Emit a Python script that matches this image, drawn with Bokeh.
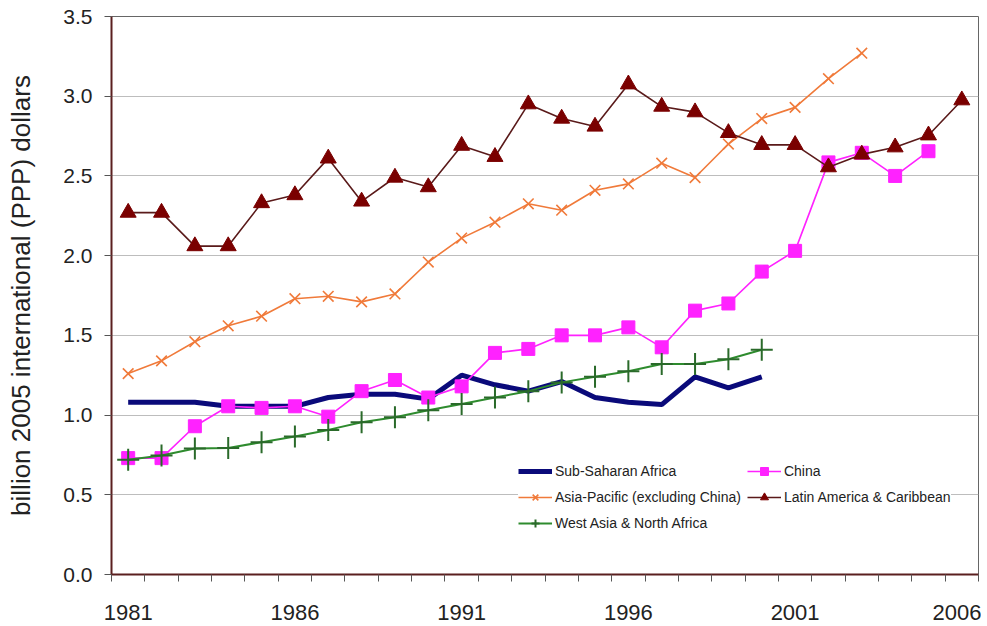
from bokeh.plotting import figure
from bokeh.models import FixedTicker, Range1d, Legend, LegendItem, CustomJSTickFormatter
from bokeh.embed import file_html
from bokeh.resources import INLINE

years = list(range(1981, 2007))

ssa = [1.08, 1.08, 1.08, 1.055, 1.055, 1.055, 1.11, 1.13, 1.13, 1.10,
       1.25, 1.19, 1.15, 1.21, 1.11, 1.08, 1.066, 1.24, 1.17, 1.24]
china = [0.73, 0.73, 0.93, 1.055, 1.045, 1.055, 0.99, 1.15, 1.22, 1.11,
         1.18, 1.39, 1.415, 1.50, 1.50, 1.55, 1.425, 1.655, 1.70, 1.90,
         2.03, 2.585, 2.645, 2.50, 2.655]
asia = [1.26, 1.34, 1.46, 1.56, 1.62, 1.73, 1.745, 1.71, 1.76, 1.96,
        2.11, 2.21, 2.325, 2.285, 2.41, 2.45, 2.58, 2.49, 2.70, 2.86,
        2.93, 3.11, 3.27]
latam = [2.27, 2.27, 2.06, 2.06, 2.33, 2.38, 2.61, 2.34, 2.49, 2.43,
         2.69, 2.62, 2.95, 2.86, 2.81, 3.075, 2.935, 2.90, 2.77, 2.695,
         2.695, 2.555, 2.635, 2.68, 2.755, 2.975]
wana = [0.72, 0.746, 0.79, 0.794, 0.83, 0.865, 0.907, 0.955, 0.986, 1.03,
        1.07, 1.11, 1.15, 1.205, 1.24, 1.275, 1.32, 1.32, 1.35, 1.41]

year_labels = [1981, 1986, 1991, 1996, 2001, 2006]
y_ticks = [0.0, 0.5, 1.0, 1.5, 2.0, 2.5, 3.0, 3.5]

FONT = "Liberation Sans"

p = figure(width=981, height=624, output_backend="svg", toolbar_location=None,
           x_range=Range1d(1980.5, 2006.5), y_range=Range1d(0, 3.5),
           min_border_left=111, min_border_right=3, min_border_top=16, min_border_bottom=50)
p.background_fill_color = "white"
p.outline_line_color = "#666666"
p.outline_line_width = 1

p.xgrid.grid_line_color = None
p.ygrid.grid_line_color = "#bdbdbd"
p.ygrid.grid_line_width = 1.2

# axes
p.yaxis.ticker = FixedTicker(ticks=y_ticks)
p.yaxis.formatter = CustomJSTickFormatter(code="return tick.toFixed(1);")
p.yaxis.axis_line_color = "#5a1f1f"
p.yaxis.axis_line_width = 2
p.yaxis.major_tick_line_color = "#555555"
p.yaxis.major_tick_out = 7
p.yaxis.major_tick_in = 0
p.yaxis.minor_tick_line_color = None
p.yaxis.major_label_text_font = FONT
p.yaxis.major_label_text_font_size = "21px"
p.yaxis.major_label_text_color = "#222222"
p.yaxis.major_label_standoff = 12
p.yaxis.axis_label = "billion 2005 international (PPP) dollars"
p.yaxis.axis_label_text_font = FONT
p.yaxis.axis_label_text_font_style = "normal"
p.yaxis.axis_label_text_font_size = "26px"
p.yaxis.axis_label_text_color = "#222222"
p.yaxis.axis_label_standoff = 24

p.xaxis.ticker = FixedTicker(ticks=year_labels,
                             minor_ticks=[y - 0.5 for y in years] + [2006.5])
p.xaxis.formatter = CustomJSTickFormatter(code="return tick.toFixed(0);")
p.xaxis.axis_line_color = "#5a1f1f"
p.xaxis.axis_line_width = 2
p.xaxis.major_tick_line_color = None
p.xaxis.minor_tick_line_color = "#555555"
p.xaxis.minor_tick_out = 7
p.xaxis.minor_tick_in = 0
p.xaxis.major_label_text_font = FONT
p.xaxis.major_label_text_font_size = "22px"
p.xaxis.major_label_text_color = "#222222"
p.xaxis.major_label_standoff = 23

# series
r_ssa = p.line(years[:len(ssa)], ssa, line_color="#0a0a7a", line_width=5)

r_china_l = p.line(years[:len(china)], china, line_color="#ff22ff", line_width=1.6)
r_china_m = p.scatter(years[:len(china)], china, marker="square", size=13,
                      fill_color="#ff22ff", line_color="#ff22ff")

r_asia_l = p.line(years[:len(asia)], asia, line_color="#f07a3a", line_width=1.6)
r_asia_m = p.scatter(years[:len(asia)], asia, marker="x", size=15,
                     line_color="#f07a3a", line_width=1.6)

r_latam_l = p.line(years[:len(latam)], latam, line_color="#5a1a1a", line_width=1.6)
r_latam_m = p.scatter(years[:len(latam)], latam, marker="triangle", size=16,
                      fill_color="#7a0000", line_color="#7a0000")

r_wana_l = p.line(years[:len(wana)], wana, line_color="#2e8b2e", line_width=2)
r_wana_m = p.scatter(years[:len(wana)], wana, marker="cross", size=22,
                     line_color="#2a6a2a", line_width=2)

# legend is filled column by column: col 1 then col 2
legend = Legend(items=[
    LegendItem(label="Sub-Saharan Africa", renderers=[r_ssa]),
    LegendItem(label="Asia-Pacific (excluding China)", renderers=[r_asia_l, r_asia_m]),
    LegendItem(label="West Asia & North Africa", renderers=[r_wana_l, r_wana_m]),
    LegendItem(label="China", renderers=[r_china_l, r_china_m]),
    LegendItem(label="Latin America & Caribbean", renderers=[r_latam_l, r_latam_m]),
], location=(407, 41), ncols=2)
legend.label_text_font = FONT
legend.label_text_font_size = "14px"
legend.label_text_color = "#222222"
legend.border_line_color = None
legend.background_fill_color = "white"
legend.background_fill_alpha = 1.0
legend.glyph_width = 34
legend.glyph_height = 20
legend.label_height = 20
legend.spacing = 6
legend.padding = 6
legend.margin = 0
legend.label_standoff = 3
p.add_layout(legend, "center")

open("out.html", "w").write(file_html(p, INLINE))
